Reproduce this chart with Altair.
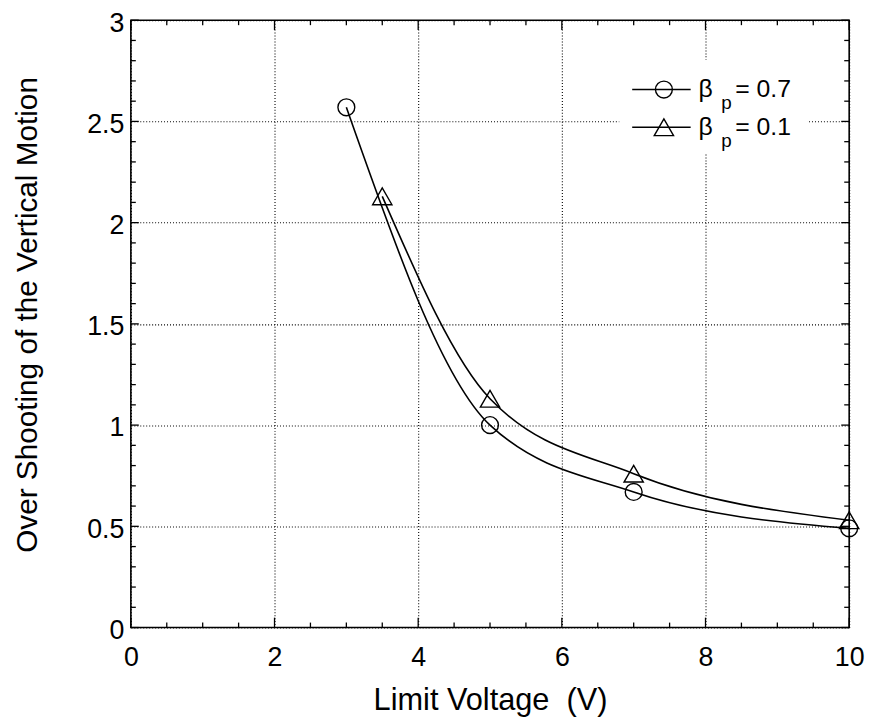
import altair as alt
import pandas as pd

# ---- data ----
beta07_x = [3, 5, 7, 10]
beta07_y = [2.57, 1.00, 0.67, 0.49]
beta01_x = [3.5, 5, 7, 10]
beta01_y = [2.13, 1.13, 0.76, 0.53]

legend_values = ["= 0.7", "= 0.1"]

x_major = [0, 2, 4, 6, 8, 10]
x_minor = [0.5, 1, 1.5, 2.5, 3, 3.5, 4.5, 5, 5.5, 6.5, 7, 7.5, 8.5, 9, 9.5]
y_major = [0, 0.5, 1, 1.5, 2, 2.5, 3]
y_minor = [0.1, 0.2, 0.3, 0.4, 0.6, 0.7, 0.8, 0.9, 1.1, 1.2, 1.3, 1.4,
           1.6, 1.7, 1.8, 1.9, 2.1, 2.2, 2.3, 2.4, 2.6, 2.7, 2.8, 2.9]

x_title = "Limit Voltage\u00a0\u00a0(V)"
y_title = "Over Shooting of the Vertical Motion"

df07 = pd.DataFrame({"x": beta07_x, "y": beta07_y})
df01 = pd.DataFrame({"x": beta01_x, "y": beta01_y})
one = pd.DataFrame({"a": [0]})

W, H = 725, 613
FONT = "Liberation Sans"

x_scale = alt.Scale(domain=[0, 10], nice=False, zero=False)
y_scale = alt.Scale(domain=[0, 3], nice=False, zero=False)

x_axis = alt.Axis(values=x_major, grid=True, ticks=False, domain=False,
                  labelExpr="'' + datum.value", labelFlush=False,
                  gridColor="#000", gridDash=[1, 2], gridWidth=1.1, gridOpacity=1,
                  labelFont=FONT, labelFontSize=27, labelColor="#000", labelPadding=17,
                  title=x_title, titleFont=FONT, titleFontSize=31, titleFontWeight="normal",
                  titleColor="#000", titleX=W / 2, titleY=83, titleBaseline="alphabetic",
                  titleAlign="center")
y_axis = alt.Axis(values=y_major, grid=True, ticks=False, domain=False,
                  labelExpr="'' + datum.value", labelFlush=False,
                  gridColor="#000", gridDash=[1, 2], gridWidth=1.1, gridOpacity=1,
                  labelFont=FONT, labelFontSize=27, labelColor="#000", labelPadding=7,
                  labelOffset=3,
                  title=y_title, titleFont=FONT, titleFontSize=30, titleFontWeight="normal",
                  titleColor="#000", titleX=-95, titleY=297, titleBaseline="alphabetic",
                  titleAlign="center", titleAngle=270)


def X(field="x"):
    return alt.X(f"{field}:Q", scale=x_scale, axis=x_axis)


def Y(field="y"):
    return alt.Y(f"{field}:Q", scale=y_scale, axis=y_axis)


layers = []

# curves
for df in (df07, df01):
    layers.append(alt.Chart(df).mark_line(interpolate="monotone", color="#000",
                                          strokeWidth=1.6).encode(x=X(), y=Y()))
# markers
layers.append(alt.Chart(df07).mark_point(shape="circle", filled=False, size=290,
                                         color="#000", strokeWidth=1.4, opacity=1)
              .encode(x=X(), y=Y()))
layers.append(alt.Chart(df01).mark_point(shape="triangle-up", filled=False, size=380,
                                         color="#000", strokeWidth=1.4, opacity=1)
              .encode(x=X(), y=Y()))


# inward tick marks on all four sides
def xticks(vals, length):
    d = pd.DataFrame({"x": vals})
    bottom = alt.Chart(d).mark_rule(color="#000", strokeWidth=1.3).encode(
        x=X(), y=alt.value(H), y2=alt.value(H - length))
    top = alt.Chart(d).mark_rule(color="#000", strokeWidth=1.3).encode(
        x=X(), y=alt.value(0), y2=alt.value(length))
    return [bottom, top]


def yticks(vals, length):
    d = pd.DataFrame({"y": vals})
    left = alt.Chart(d).mark_rule(color="#000", strokeWidth=1.3).encode(
        y=Y(), x=alt.value(0), x2=alt.value(length))
    right = alt.Chart(d).mark_rule(color="#000", strokeWidth=1.3).encode(
        y=Y(), x=alt.value(W), x2=alt.value(W - length))
    return [left, right]


layers += xticks(x_major, 10) + xticks(x_minor, 5)
layers += yticks(y_major, 8) + yticks(y_minor, 5)

# legend (white box covering the grid)
layers.append(alt.Chart(one).mark_rect(color="white").encode(
    x=alt.value(493), x2=alt.value(683), y=alt.value(40), y2=alt.value(135)))
rows = [(70, "circle", 290, legend_values[0]), (108, "triangle-up", 380, legend_values[1])]
for yy, shp, sz, lab in rows:
    layers.append(alt.Chart(one).mark_rule(color="#000", strokeWidth=1.6).encode(
        x=alt.value(506), x2=alt.value(565), y=alt.value(yy)))
    layers.append(alt.Chart(one).mark_point(shape=shp, filled=False, size=sz, color="#000",
                                            strokeWidth=1.4, opacity=1).encode(
        x=alt.value(538), y=alt.value(yy)))
    layers.append(alt.Chart(one).mark_text(text="β", align="left", baseline="alphabetic",
                                           font=FONT, fontSize=25, color="#000").encode(
        x=alt.value(573), y=alt.value(yy + 8)))
    layers.append(alt.Chart(one).mark_text(text="p", align="left", baseline="alphabetic",
                                           font=FONT, fontSize=19, color="#000").encode(
        x=alt.value(596), y=alt.value(yy + 20)))
    layers.append(alt.Chart(one).mark_text(text=lab, align="left", baseline="alphabetic",
                                           font=FONT, fontSize=25, color="#000").encode(
        x=alt.value(610), y=alt.value(yy + 8)))

chart = alt.layer(*layers).properties(
    width=W, height=H,
    autosize=alt.AutoSizeParams(type="none"),
    padding={"left": 124, "top": 9, "right": 19, "bottom": 91},
    background="white",
).configure_view(stroke="#000", strokeWidth=1.6)

chart.save("out.html", embed_options={"renderer": "svg", "actions": False})
